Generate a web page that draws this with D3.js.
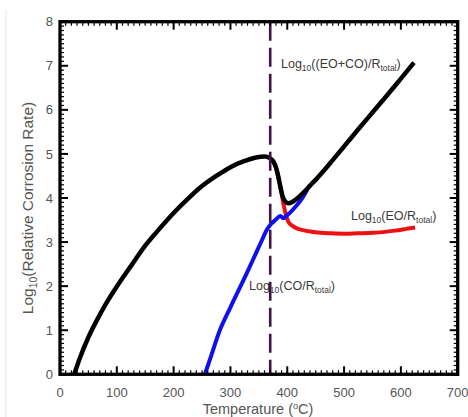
<!DOCTYPE html>
<html><head><meta charset="utf-8">
<script src="https://cdn.jsdelivr.net/npm/d3@7"></script>
<style>html,body{margin:0;padding:0;background:#fff;}svg{display:block;}</style>
</head><body>
<svg id="c" width="468" height="417"></svg>
<script>
// ---- data ----
const xTicks = [0,100,200,300,400,500,600,700];
const yTicks = [0,1,2,3,4,5,6,7,8];
const criticalT = 370;

const totalT = [25,35,50,65,80,100,125,150,175,200,225,250,275,300,325,345,360,370,376,380,384,388,392,396,402,410,420,430,440,452,465,480,500,525,550,575,600,623];
const totalV = [0,0.37,0.84,1.23,1.58,1.99,2.46,2.92,3.3,3.66,3.98,4.27,4.5,4.7,4.84,4.92,4.94,4.9,4.82,4.7,4.5,4.25,4.03,3.93,3.88,3.92,4.02,4.14,4.28,4.44,4.63,4.86,5.17,5.56,5.94,6.32,6.71,7.07];

const coT = [255,265,282,300,329,345,355,364,370,379,388,393,399,408,417,427,436];
const coV = [0,0.38,1.02,1.52,2.3,2.75,3.03,3.28,3.39,3.5,3.59,3.54,3.6,3.71,3.84,4.01,4.21];

const eoT = [372,378,382,386,390,394,398,402,410,417,428,440,460,475,500,525,550,563,590,610,625];
const eoV = [4.88,4.76,4.6,4.36,4.1,3.82,3.6,3.46,3.36,3.31,3.27,3.24,3.21,3.2,3.19,3.2,3.21,3.22,3.26,3.3,3.33];

// ---- layout ----
const svg = d3.select('#c');
const L = 60, R = 457.7, T = 21.7, B = 374.3;
const x = d3.scaleLinear().domain([0,700]).range([L,R]);
const y = d3.scaleLinear().domain([0,8]).range([B,T]);

// faint page border line
svg.append('line').attr('x1',6).attr('x2',6).attr('y1',10).attr('y2',417)
  .attr('stroke','#e4e4e4').attr('stroke-width',1);

const line = d3.line().x(d=>x(d[0])).y(d=>y(d[1])).curve(d3.curveMonotoneX);
const zip = (a,b)=>a.map((v,i)=>[v,b[i]]);

const g = svg.append('g');
g.append('path').attr('d',line(zip(eoT,eoV))).attr('fill','none').attr('stroke','#ee1111').attr('stroke-width',4).attr('stroke-linejoin','round');
g.append('path').attr('d',line(zip(coT,coV))).attr('fill','none').attr('stroke','#1010ee').attr('stroke-width',4).attr('stroke-linejoin','round');
g.append('path').attr('d',line(zip(totalT,totalV))).attr('fill','none').attr('stroke','#000').attr('stroke-width',4.5).attr('stroke-linejoin','round');

// dashed critical line
g.append('line').attr('x1',x(criticalT)).attr('x2',x(criticalT)).attr('y1',y(8)).attr('y2',y(0))
  .attr('stroke','#3f1443').attr('stroke-width',2.6).attr('stroke-dasharray','19,7');

// ---- axes (ticks inside, on all sides) ----
const axG = svg.append('g').attr('stroke','#000');
const minorX = d3.range(0,701,10), minorY = d3.range(0,8.001,0.1);
minorX.forEach(v=>{
  const major = v%100===0;
  const len = major?8:4;
  axG.append('line').attr('x1',x(v)).attr('x2',x(v)).attr('y1',B).attr('y2',B-len).attr('stroke-width',major?2:1.2);
  axG.append('line').attr('x1',x(v)).attr('x2',x(v)).attr('y1',T).attr('y2',T+len).attr('stroke-width',major?2:1.2);
});
minorY.forEach(v=>{
  const major = Math.abs(v-Math.round(v))<1e-6;
  const len = major?8:4;
  axG.append('line').attr('y1',y(v)).attr('y2',y(v)).attr('x1',L).attr('x2',L+len).attr('stroke-width',major?2:1.2);
  axG.append('line').attr('y1',y(v)).attr('y2',y(v)).attr('x1',R).attr('x2',R-len).attr('stroke-width',major?2:1.2);
});
svg.append('rect').attr('x',L).attr('y',T).attr('width',R-L).attr('height',B-T)
  .attr('fill','none').attr('stroke','#000').attr('stroke-width',3.3);

const font = 'Liberation Sans, Arial, Helvetica, sans-serif';
svg.append('g').selectAll('text').data(xTicks).join('text')
  .attr('x',d=>x(d)).attr('y',396.7).attr('text-anchor','middle')
  .attr('font-family',font).attr('font-size',13).attr('fill','#555').text(d=>d);
svg.append('g').selectAll('text').data(yTicks).join('text')
  .attr('x',53).attr('y',d=>y(d)+4.6).attr('text-anchor','end')
  .attr('font-family',font).attr('font-size',13).attr('fill','#555').text(d=>d);

// axis titles
const xt = svg.append('text').attr('x',258).attr('y',414).attr('text-anchor','middle')
  .attr('font-family',font).attr('font-size',14.5).attr('fill','#555');
xt.append('tspan').text('Temperature (');
xt.append('tspan').attr('font-size',9).attr('dy',-5).text('o');
xt.append('tspan').attr('dy',5).text('C)');

const yt = svg.append('text').attr('transform','translate(33,208) rotate(-90)').attr('text-anchor','middle')
  .attr('font-family',font).attr('font-size',15.5).attr('fill','#555');
yt.append('tspan').text('Log');
yt.append('tspan').attr('font-size',10.5).attr('dy',4).text('10');
yt.append('tspan').attr('dy',-4).text('(Relative Corrosion Rate)');

// curve labels
function label(px,py,mid){
  const t = svg.append('text').attr('x',px).attr('y',py).attr('font-family',font)
    .attr('font-size',12.5).attr('fill','#3a3a3a');
  t.append('tspan').text('Log');
  t.append('tspan').attr('font-size',8.5).attr('dy',3).text('10');
  t.append('tspan').attr('dy',-3).text(mid);
  t.append('tspan').attr('font-size',8.5).attr('dy',3).text('total');
  t.append('tspan').attr('dy',-3).text(')');
}
label(281,68,'((EO+CO)/R');
label(351,220,'(EO/R');
label(249,290,'(CO/R');
</script>
</body></html>
